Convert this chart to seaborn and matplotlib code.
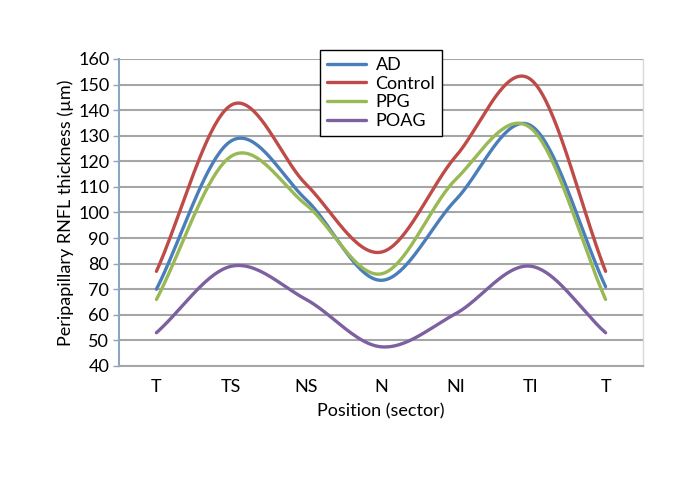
import numpy as np
import pandas as pd
import matplotlib
matplotlib.use('Agg')
import matplotlib.pyplot as plt
import seaborn as sns

sectors = ['T', 'TS', 'NS', 'N', 'NI', 'TI', 'T']
ad = [70, 128, 105, 73.5, 105, 134, 71]
control = [77, 142, 111, 84.5, 122, 152, 77]
ppg = [66, 122, 103, 76, 113, 133, 66]
poag = [53, 79, 66, 47.5, 60.5, 79, 53]

series_names = ['AD', 'Control', 'PPG', 'POAG']
colors = ['#4A7EBB', '#BE4B48', '#98B954', '#7D60A0']


# smoothed line like a spreadsheet chart (Catmull-Rom through each point)
def smooth(y, steps=40):
    y = np.asarray(y, dtype=float)
    n = len(y)
    x = np.arange(n, dtype=float)
    m = np.zeros(n)
    m[1:-1] = (y[2:] - y[:-2]) / 2
    m[0] = y[1] - y[0]
    m[-1] = y[-1] - y[-2]
    xs, ys = [], []
    for i in range(n - 1):
        t = np.linspace(0, 1, steps, endpoint=(i == n - 2))
        h00 = 2 * t**3 - 3 * t**2 + 1
        h10 = t**3 - 2 * t**2 + t
        h01 = -2 * t**3 + 3 * t**2
        h11 = t**3 - t**2
        xs.append(x[i] + t)
        ys.append(h00 * y[i] + h10 * m[i] + h01 * y[i + 1] + h11 * m[i + 1])
    return np.concatenate(xs), np.concatenate(ys)


frames = []
for name, vals in zip(series_names, [ad, control, ppg, poag]):
    xs, ys = smooth(vals)
    frames.append(pd.DataFrame({'pos': xs, 'value': ys, 'group': name}))
df = pd.concat(frames, ignore_index=True)

sns.set_style('white')
plt.rcParams['font.family'] = ['Lato', 'DejaVu Sans']
plt.rcParams['text.color'] = 'black'
plt.rcParams['axes.labelcolor'] = 'black'

fig = plt.figure(figsize=(7, 4.8), dpi=100)
ax = fig.add_axes([0.17, 0.2375, 0.7486, 0.6396])

ax.set_ylim(40, 160)
ax.set_xlim(-0.5, 6.5)
ax.set_yticks(range(40, 161, 10))
ax.yaxis.grid(True, color='#A6A6A6', linewidth=1.5)
ax.set_axisbelow(True)

sns.lineplot(data=df, x='pos', y='value', hue='group', palette=colors,
             hue_order=series_names, linewidth=2.4, ax=ax, sort=False,
             estimator=None)

ax.set_xticks(range(len(sectors)))
ax.set_xticklabels(sectors)
ax.tick_params(axis='both', labelsize=13, labelcolor='black')
ax.tick_params(axis='y', length=4, width=1, color='#8EA4C0', left=True, pad=3)
ax.tick_params(axis='x', length=0, pad=9)

ax.spines['top'].set_visible(False)
ax.spines['left'].set_color('#8EA4C0')
ax.spines['left'].set_linewidth(1.5)
ax.spines['bottom'].set_color('#A6A6A6')
ax.spines['bottom'].set_linewidth(1.5)
ax.spines['right'].set_color('#D9D9D9')
ax.spines['right'].set_linewidth(1)

ax.set_xlabel('Position (sector)', fontsize=13, labelpad=6)
ax.set_ylabel('Peripapillary RNFL thickness (µm)', fontsize=13, labelpad=3)

leg = ax.legend(loc='upper center', bbox_to_anchor=(0.5, 1.03), fontsize=13,
                frameon=True, fancybox=False, handlelength=2.2,
                borderpad=0.4, labelspacing=0.15, handletextpad=0.5,
                borderaxespad=0)
leg.get_frame().set_edgecolor('black')
leg.get_frame().set_linewidth(1)
leg.get_frame().set_alpha(1)
for line in leg.get_lines():
    line.set_linewidth(2.4)

fig.savefig('out.png', dpi=100, facecolor='white')
